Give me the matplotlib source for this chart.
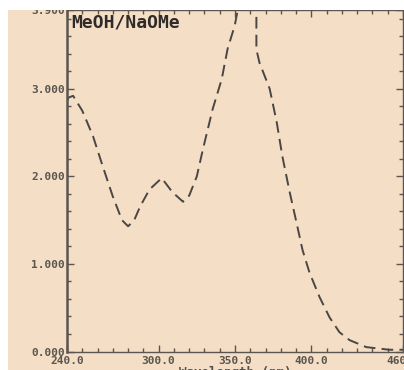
import matplotlib
matplotlib.use("Agg")
import matplotlib.pyplot as plt
from matplotlib.patches import Rectangle
from matplotlib.ticker import MultipleLocator, FixedLocator

# ---- data ----
wavelength = [240, 241, 244, 250, 257, 263.5, 270, 276, 280, 284, 288, 294,
              302, 309, 316, 320, 325, 329, 335.4, 341.3, 345.2, 349.8, 352,
              356, 360, 364, 364, 366, 372.7, 377.3, 381, 385.8, 390.3, 394.2,
              398.8, 405.4, 411.9, 418.4, 425, 436, 451, 460]
absorbance = [2.86, 2.9, 2.92, 2.75, 2.46, 2.11, 1.77, 1.5, 1.43, 1.5, 1.66, 1.85,
              1.98, 1.82, 1.71, 1.78, 2.0, 2.31, 2.77, 3.11, 3.46, 3.72, 3.92,
              4.3, 4.4, 4.3, 3.45, 3.3, 3.0, 2.62, 2.23, 1.82, 1.47, 1.16,
              0.9, 0.62, 0.39, 0.22, 0.13, 0.05, 0.02, 0.02]
x_ticks = [240, 300, 350, 400, 460]
x_tick_labels = ["240.0", "300.0", "350.0", "400.0", "460.0"]
y_ticks = [0, 1, 2, 3, 3.9]
y_tick_labels = ["0.000", "1.000", "2.000", "3.000", "3.900"]
legend_text = "MeOH/NaOMe"
x_label = "Wavelength (nm)"

peach = "#F4DEC6"
ink = "#5a5550"
W, H = 404, 370

fig = plt.figure(figsize=(W / 100, H / 100), dpi=100, facecolor="white")
# peach background region (the white strips at top/left are part of the scan)
fig.patches.append(Rectangle((8 / W, 0), 1, (H - 10) / H, transform=fig.transFigure,
                             facecolor=peach, edgecolor="none", zorder=-5))

ax = fig.add_axes([67 / W, (H - 351.5) / H, (403 - 67) / W, (351.5 - 10) / H])
ax.set_facecolor(peach)
ax.plot(wavelength, absorbance, color="#4a4644", lw=1.4,
        linestyle=(0, (6, 3.2)), clip_on=True)

ax.set_xlim(240, 460)
ax.set_ylim(0, 3.9)
ax.xaxis.set_major_locator(FixedLocator(x_ticks))
ax.set_xticklabels(x_tick_labels)
ax.xaxis.set_minor_locator(MultipleLocator(10))
ax.yaxis.set_major_locator(FixedLocator(y_ticks))
ax.set_yticklabels(y_tick_labels)
ax.yaxis.set_minor_locator(MultipleLocator(0.2))

ax.tick_params(which="both", direction="in", top=True, right=True,
               color=ink, width=1.0)
ax.tick_params(which="major", length=5)
ax.tick_params(axis="x", which="major", pad=3)
ax.tick_params(axis="y", which="major", pad=1.5)
ax.tick_params(which="minor", length=3)
for lab in ax.get_xticklabels() + ax.get_yticklabels():
    lab.set_family("DejaVu Sans Mono")
    lab.set_fontweight("bold")
    lab.set_fontsize(8)
    lab.set_color("#5a554f")

for side, sp in ax.spines.items():
    sp.set_color(ink)
    sp.set_linewidth(1.0)
ax.spines["left"].set_linewidth(1.8)

ax.text(0.012, 0.99, legend_text, transform=ax.transAxes, ha="left", va="top",
        family="DejaVu Sans Mono", fontweight="bold", fontsize=13,
        color="#2f2b28")

ax.set_xlabel(x_label, family="DejaVu Sans Mono", fontweight="bold",
              fontsize=9, color="#555049", labelpad=0)

# white strips of the scanned page (top and left)
fig.patches.append(Rectangle((0, (H - 10) / H), 1, 10 / H, transform=fig.transFigure,
                             facecolor="white", edgecolor="none", zorder=10))
fig.patches.append(Rectangle((0, 0), 8 / W, 1, transform=fig.transFigure,
                             facecolor="white", edgecolor="none", zorder=10))

fig.savefig("out.png", dpi=100, facecolor="white")
